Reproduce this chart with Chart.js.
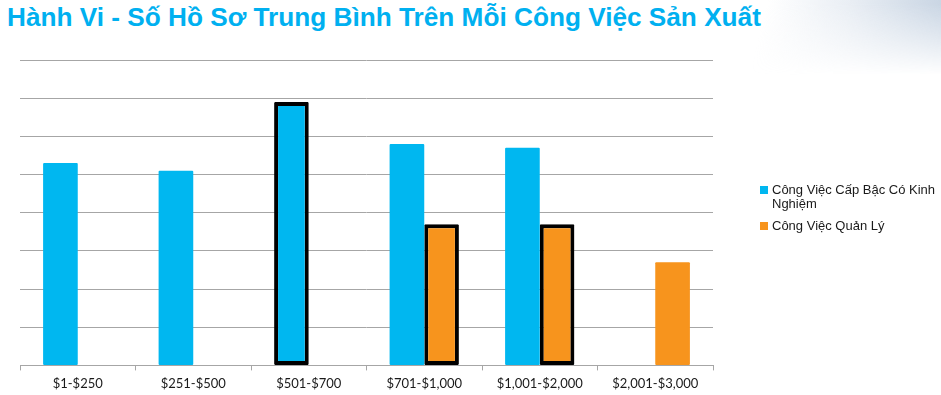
<!DOCTYPE html>
<html>
<head>
<meta charset="utf-8">
<script src="https://cdn.jsdelivr.net/npm/chart.js@4/dist/chart.umd.min.js"></script>
<style>
    body { margin: 0; background: #fff; }
    #wrap { position: relative; width: 941px; height: 395px; overflow: hidden; }
    #deco {
        position: absolute; left: 720px; top: 0; width: 221px; height: 75px;
        background: linear-gradient(105deg, rgba(255,255,255,0) 20%, rgba(210,220,232,0.5) 55%, rgba(175,193,214,0.75) 100%);
        -webkit-mask-image: linear-gradient(to bottom, #000 5%, transparent 100%);
        mask-image: linear-gradient(to bottom, #000 5%, transparent 100%);
    }
    #title {
        position: absolute; left: 7px; top: 2px;
        font: bold 26.2px "Liberation Sans", Arial, sans-serif;
        color: #00b0f0; white-space: nowrap;
    }
    #chart { position: absolute; left: 0; top: 0; }
    #legend {
        position: absolute; left: 760px; top: 183px; width: 180px;
        font: 13px "Liberation Sans", Arial, sans-serif; color: #1a1a1a;
    }
    .item { position: relative; padding-left: 12px; line-height: 14px; margin-bottom: 8px; }
    .item span { position: absolute; left: 0; top: 3px; width: 8px; height: 8px; }
</style>
</head>
<body>
<div id="wrap">
    <div id="deco"></div>
    <div id="title">Hành Vi - Số Hồ Sơ Trung Bình Trên Mỗi Công Việc Sản Xuất</div>
    <canvas id="chart" width="941" height="395"></canvas>
    <div id="legend"></div>
</div>
<script>
var categories = ["$1-$250", "$251-$500", "$501-$700", "$701-$1,000", "$1,001-$2,000", "$2,001-$3,000"];
var seriesNames = ["Công Việc Cấp Bậc Có Kinh Nghiệm", "Công Việc Quản Lý"];
var experienced = [5.3, 5.1, 6.9, 5.8, 5.7, null];
var management = [null, null, null, 3.7, 3.7, 2.7];

var blue = "#00b7f0";
var orange = "#f7941d";

var ctx = document.getElementById("chart").getContext("2d");
var chart = new Chart(ctx, {
    type: "bar",
    data: {
        labels: categories,
        datasets: [{
            label: seriesNames[0],
            data: experienced,
            backgroundColor: blue,
            borderColor: "#000",
            borderWidth: [0, 0, 4, 0, 0, 0],
            borderSkipped: false,
            borderRadius: 1
        },
        {
            label: seriesNames[1],
            data: management,
            backgroundColor: orange,
            borderColor: "#000",
            borderWidth: [0, 0, 0, 4, 4, 0],
            borderSkipped: false,
            borderRadius: 1
        }]
    },
    options: {
        responsive: false,
        animation: false,
        categoryPercentage: 0.6,
        barPercentage: 1.0,
        layout: { padding: { left: 20, right: 228, top: 60, bottom: -3 } },
        plugins: {
            legend: { display: false },
            tooltip: { enabled: false }
        },
        scales: {
            x: {
                grid: { offset: true, drawOnChartArea: false, color: "#a6a6a6", tickLength: 5 },
                border: { color: "#a6a6a6" },
                ticks: { color: "#1a1a1a", padding: 6, font: { family: "Lato", size: 13 } }
            },
            y: {
                min: 0,
                max: 8,
                ticks: { stepSize: 1, display: false },
                grid: { color: "#a6a6a6", drawTicks: false },
                border: { display: false }
            }
        }
    }
});

var legendBox = document.getElementById("legend");
chart.data.datasets.forEach(function (ds) {
    var item = document.createElement("div");
    item.className = "item";
    var sw = document.createElement("span");
    sw.style.background = ds.backgroundColor;
    item.appendChild(sw);
    item.appendChild(document.createTextNode(ds.label));
    legendBox.appendChild(item);
});
</script>
</body>
</html>
